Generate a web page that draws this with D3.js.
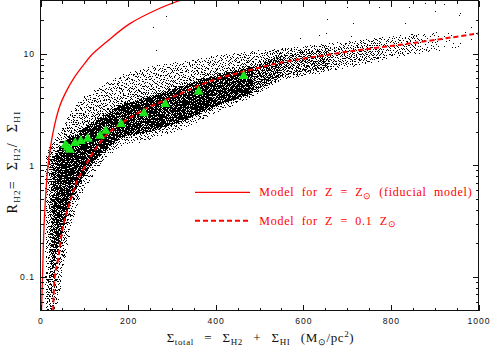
<!DOCTYPE html>
<html><head><meta charset="utf-8">
<script src="https://cdn.jsdelivr.net/npm/d3@7"></script>
<style>body{margin:0;background:#fff}svg{display:block}</style>
</head><body>
<svg id="chart" width="491" height="348"></svg>
<script>
// ---- data ----
// Pixel cloud of the simulation, described as a density envelope along Sigma_total
const cloudSigma      = [12, 20, 25, 30, 40, 50, 60, 70, 85, 100, 125, 150, 185, 250, 320, 390, 485, 550, 660, 775, 865, 910, 950, 1000];
const cloudCoreTop    = [0.75, 1.01, 1.08, 1.17, 1.38, 1.53, 1.69, 1.77, 1.88, 2.17, 2.45, 2.83, 3.47, 4.10, 5.03, 6.18, 7.58, 9.70, 10.7, 12.7, 14.6, 15.2, 15.2, 15.2];
const cloudCoreBottom = [0.117, 0.087, 0.096, 0.117, 0.197, 0.256, 0.364, 0.494, 0.659, 0.826, 1.12, 1.40, 1.80, 2.00, 2.45, 3.27, 4.45, 6.30, 7.58, 9.31, 11.0, 11.7, 11.9, 12.2];
const cloudHaloTop    = [1.25, 1.44, 1.53, 1.69, 1.88, 2.17, 2.55, 3.01, 3.62, 4.10, 4.73, 5.46, 6.43, 7.74, 8.40, 9.50, 10.5, 11.2, 12.4, 14.0, 15.2, 15.6, 15.6, 15.6];
const cloudHaloBottom = [0.05, 0.05, 0.05, 0.05, 0.057, 0.106, 0.177, 0.296, 0.446, 0.607, 0.879, 1.17, 1.50, 1.69, 2.08, 2.83, 4.10, 5.80, 6.98, 8.55, 10.1, 10.7, 11.2, 11.7];
// number of pixels between consecutive envelope knots
const cloudCoreCount  = [80, 130, 190, 480, 500, 490, 430, 520, 440, 600, 510, 600, 1150, 1300, 1300, 1350, 500, 450, 240, 112, 24, 6, 2];
const cloudHaloCount  = [60, 45, 45, 95, 90, 80, 70, 95, 85, 130, 120, 150, 260, 260, 230, 250, 120, 150, 100, 50, 15, 5, 3];
// isolated pixels far above the cloud
const outlierSigma = [288, 258, 265, 702, 774, 843, 880, 922, 902, 960, 957, 656, 715, 593, 710, 834, 983, 637, 653];
const outlierR     = [21.6, 17.3, 10.6, 26.1, 26.1, 25.8, 28.4, 27.6, 24.1, 23.1, 22.0, 20.3, 18.8, 13.7, 14.3, 18.6, 17.1, 14.6, 15.3];
// green triangles (binned values)
const binSigma = [57, 62, 67, 79, 92, 108, 136, 149, 184, 236, 285, 361, 464];
const binR     = [1.52, 1.44, 1.38, 1.58, 1.65, 1.73, 1.84, 2.04, 2.34, 2.93, 3.53, 4.58, 6.31];
// model curves
const modelSolarSigma = [2.3, 4.6, 7.5, 12, 17.3, 29, 44, 60, 78, 98, 115, 151, 204, 265, 318];
const modelSolarR     = [0.05, 0.1, 0.25, 0.55, 1.0, 2.0, 3.4, 4.7, 6.2, 7.9, 9.6, 12.8, 18.6, 24.8, 30];
const modelLowZSigma  = [29, 32.6, 40, 51.6, 67, 82, 98, 110, 120, 151, 183, 235, 304, 395, 486, 547, 700, 852, 1000];
const modelLowZR      = [0.05, 0.1, 0.144, 0.286, 0.465, 0.70, 0.92, 1.12, 1.30, 1.88, 2.35, 3.14, 4.13, 5.82, 7.26, 8.3, 10.4, 12.5, 15.2];
// axes
const xTickValues = [0, 200, 400, 600, 800, 1000];
const xMinorTicks = [50, 100, 150, 250, 300, 350, 450, 500, 550, 650, 700, 750, 850, 900, 950];
const yTickValues = [0.1, 1, 10];
const yTickLabels = ["0.1", "1", "10"];
const yMinorTicks = [0.06, 0.07, 0.08, 0.09, 0.2, 0.3, 0.4, 0.5, 0.6, 0.7, 0.8, 0.9, 2, 3, 4, 5, 6, 7, 8, 9, 20];
const legendLabels = ["Model for Z = Z", "Model for Z = 0.1 Z"];

// ---- layout ----
const L = 40.5, R = 478.5, T = 0.5, B = 310.5;
const svg = d3.select("#chart");
const x = d3.scaleLinear().domain([0, 1000]).range([L, R]);
const y = d3.scaleLog().domain([0.05, 30]).range([B, T]);
const red = "#f00";

svg.append("defs").append("clipPath").attr("id", "clip")
  .append("rect").attr("x", L).attr("y", T).attr("width", R - L).attr("height", B - T);

// ---- cloud pixels (deterministic low-discrepancy placement inside the read envelope) ----
function halton(i, b) { let f = 1, r = 0; while (i > 0) { f /= b; r += f * (i % b); i = Math.floor(i / b); } return r; }
const dots = [];
let idx = 1;
const lg = Math.log10;
for (let k = 0; k < cloudSigma.length - 1; k++) {
  const s0 = cloudSigma[k], s1 = cloudSigma[k + 1];
  const ip = (a, u) => lg(a[k]) + (lg(a[k + 1]) - lg(a[k])) * u;
  for (let j = 0; j < cloudCoreCount[k]; j++, idx++) {
    const u = halton(idx, 2), v = halton(idx, 3);
    const lt = ip(cloudCoreTop, u), lb = ip(cloudCoreBottom, u);
    dots.push([s0 + (s1 - s0) * u, Math.pow(10, lb + (lt - lb) * v)]);
  }
  for (let j = 0; j < cloudHaloCount[k]; j++, idx++) {
    const u = halton(idx, 2), v = halton(idx, 3), w = halton(idx, 5);
    const ct = ip(cloudCoreTop, u), cb = ip(cloudCoreBottom, u);
    const ht = ip(cloudHaloTop, u), hb = ip(cloudHaloBottom, u);
    const up = Math.max(ht - ct, 0), dn = Math.max(cb - hb, 0);
    let l;
    if (w < up / (up + dn)) l = ct + up * Math.pow(v, 1.3);
    else l = cb - dn * Math.pow(v, 1.3);
    dots.push([s0 + (s1 - s0) * u, Math.pow(10, l)]);
  }
}
outlierSigma.forEach((s, i) => dots.push([s, outlierR[i]]));

svg.append("g").attr("clip-path", "url(#clip)")
  .selectAll("rect").data(dots).join("rect")
  .attr("x", d => Math.floor(x(d[0])))
  .attr("y", d => Math.floor(y(d[1])))
  .attr("width", 1).attr("height", 1)
  .attr("fill", "#000");

// ---- model curves ----
const line = d3.line().x(d => x(d[0])).y(d => y(d[1])).curve(d3.curveCatmullRom.alpha(0.5));
const gc = svg.append("g").attr("clip-path", "url(#clip)");
gc.append("path").datum(modelSolarSigma.map((s, i) => [s, modelSolarR[i]]))
  .attr("d", line).attr("fill", "none").attr("stroke", red).attr("stroke-width", 1.3);
gc.append("path").datum(modelLowZSigma.map((s, i) => [s, modelLowZR[i]]))
  .attr("d", line).attr("fill", "none").attr("stroke", red).attr("stroke-width", 2)
  .attr("stroke-dasharray", "5,3");

// ---- green triangles ----
svg.append("g").selectAll("path").data(binSigma.map((s, i) => [s, binR[i]])).join("path")
  .attr("transform", d => `translate(${x(d[0])},${y(d[1])})`)
  .attr("d", d3.symbol(d3.symbolTriangle, 44))
  .attr("fill", "#1ee61e");

// ---- axes ----
const tickFont = g => g.selectAll("text").attr("font-family", "Liberation Sans, Arial, sans-serif")
  .attr("font-size", "8.6px").attr("letter-spacing", "1px").attr("fill", "#111");
const clean = g => { g.select(".domain").remove(); g.selectAll("line").attr("stroke", "#111").attr("shape-rendering", "crispEdges"); };

svg.append("g").attr("transform", `translate(0,${B})`)
  .call(d3.axisBottom(x).tickValues(xTickValues).tickSizeInner(-6).tickSizeOuter(0).tickPadding(7).tickFormat(d3.format("d")))
  .call(clean).call(tickFont);
svg.append("g").attr("transform", `translate(0,${B})`)
  .call(d3.axisBottom(x).tickValues(xMinorTicks).tickSizeInner(-3).tickSizeOuter(0).tickFormat(""))
  .call(clean);
svg.append("g").attr("transform", `translate(0,${T})`)
  .call(d3.axisTop(x).tickValues(xTickValues).tickSizeInner(-6).tickSizeOuter(0).tickFormat(""))
  .call(clean);
svg.append("g").attr("transform", `translate(0,${T})`)
  .call(d3.axisTop(x).tickValues(xMinorTicks).tickSizeInner(-3).tickSizeOuter(0).tickFormat(""))
  .call(clean);
svg.append("g").attr("transform", `translate(${L},0)`)
  .call(d3.axisLeft(y).tickValues(yTickValues).tickSizeInner(-6).tickSizeOuter(0).tickPadding(5.5)
    .tickFormat((d, i) => yTickLabels[i]))
  .call(clean).call(tickFont);
svg.append("g").attr("transform", `translate(${L},0)`)
  .call(d3.axisLeft(y).tickValues(yMinorTicks).tickSizeInner(-3).tickSizeOuter(0).tickFormat(""))
  .call(clean);
svg.append("g").attr("transform", `translate(${R},0)`)
  .call(d3.axisRight(y).tickValues(yTickValues).tickSizeInner(-6).tickSizeOuter(0).tickFormat(""))
  .call(clean);
svg.append("g").attr("transform", `translate(${R},0)`)
  .call(d3.axisRight(y).tickValues(yMinorTicks).tickSizeInner(-3).tickSizeOuter(0).tickFormat(""))
  .call(clean);

svg.append("rect").attr("x", L).attr("y", T).attr("width", R - L).attr("height", B - T)
  .attr("fill", "none").attr("stroke", "#111").attr("stroke-width", 1).attr("shape-rendering", "crispEdges");

// ---- axis titles ----
const serif = "Liberation Serif, Times New Roman, serif";
const xt = svg.append("text").attr("x", 166.7).attr("y", 341.7)
  .attr("font-family", serif).attr("font-size", "13px").attr("fill", "#111")
  .attr("letter-spacing", "0.6px").attr("word-spacing", "6.5px");
const sub = (t, s, dy) => t.append("tspan").attr("dy", dy).attr("font-size", "9px").text(s);
const main = (t, s, dy) => t.append("tspan").attr("dy", dy).text(s);
main(xt, "Σ", 0); sub(xt, "total", 3); main(xt, " = Σ", -3); sub(xt, "H2", 3);
main(xt, " + Σ", -3); sub(xt, "HI", 3); main(xt, " (M", -3); sub(xt, "⊙", 3);
main(xt, "/pc", -3); sub(xt, "2", -5); main(xt, ")", 5);

const yt = svg.append("text").attr("transform", "translate(17,162) rotate(-90)")
  .attr("text-anchor", "middle")
  .attr("font-family", serif).attr("font-size", "14px").attr("fill", "#111")
  .attr("letter-spacing", "1.3px").attr("word-spacing", "5px");
main(yt, "R", 0); sub(yt, "H2", 3); main(yt, "= Σ", -3); sub(yt, "H2", 3);
main(yt, "/ Σ", -3); sub(yt, "HI", 3);

// ---- legend ----
const legY = [192.3, 220.7];
const lg0 = svg.append("g");
lg0.append("line").attr("x1", 195).attr("x2", 250).attr("y1", legY[0]).attr("y2", legY[0])
  .attr("stroke", red).attr("stroke-width", 1.3);
lg0.append("line").attr("x1", 195).attr("x2", 250).attr("y1", legY[1]).attr("y2", legY[1])
  .attr("stroke", red).attr("stroke-width", 2).attr("stroke-dasharray", "5,3");
legendLabels.forEach((lab, i) => {
  const t = lg0.append("text").attr("x", 259.3).attr("y", legY[i] + 3.8)
    .attr("font-family", serif).attr("font-size", "12px").attr("fill", red)
    .attr("letter-spacing", "0.75px").attr("word-spacing", "3.5px");
  main(t, lab, 0); sub(t, "⊙", 2.5);
  if (i === 0) main(t, " (fiducial model)", -2.5);
});
</script>
</body></html>
